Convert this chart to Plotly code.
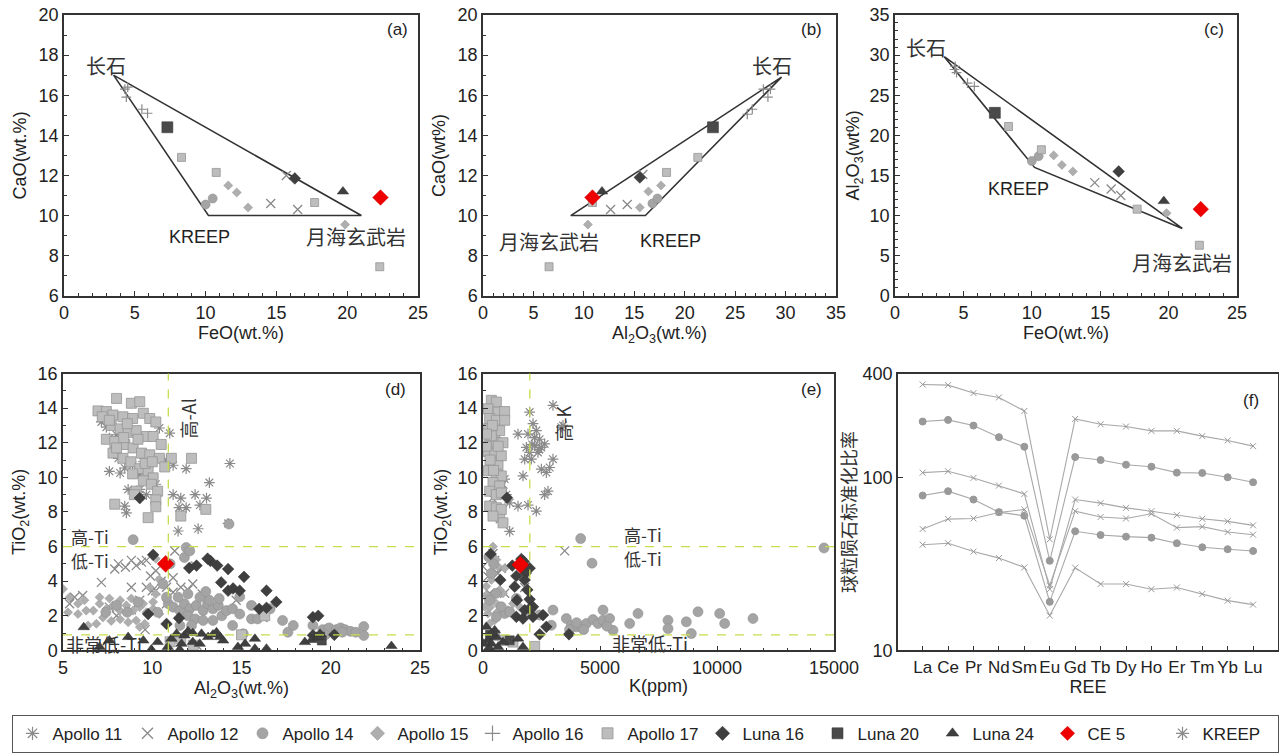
import plotly.graph_objects as go

# ------------------------------------------------------------------ data
SERIES = ["Apollo 11", "Apollo 12", "Apollo 14", "Apollo 15", "Apollo 16",
          "Apollo 17", "Luna 16", "Luna 20", "Luna 24", "CE 5", "KREEP"]

# (a) FeO vs CaO
a_apollo16 = [(4.3, 16.3), (4.4, 15.9), (4.5, 16.4), (5.5, 15.3), (5.9, 15.1)]
a_apollo12 = [(14.6, 10.6), (16.5, 10.3), (15.7, 12.0)]
a_apollo14 = [(10.0, 10.55), (10.5, 10.85)]
a_apollo15 = [(11.6, 11.5), (12.2, 11.15), (13.0, 10.4), (19.85, 9.55)]
a_apollo17 = [(8.3, 12.9), (10.75, 12.15), (17.7, 10.65), (22.3, 7.45)]
a_luna16 = [(16.3, 11.85)]
a_luna20 = [(7.3, 14.4)]
a_luna24 = [(19.7, 11.2)]
a_ce5 = [(22.35, 10.9)]
a_field = [(3.5, 17.0), (10.2, 10.0), (21.0, 10.0), (3.5, 17.0)]

# (b) Al2O3 vs CaO
b_apollo16 = [(27.8, 16.3), (28.25, 15.9), (28.5, 16.3), (26.2, 15.05), (26.7, 15.3)]
b_apollo12 = [(12.65, 10.3), (14.3, 10.55), (15.85, 12.05)]
b_apollo14 = [(16.8, 10.6), (17.3, 10.85)]
b_apollo15 = [(16.4, 11.2), (17.65, 11.5), (15.55, 10.4), (10.4, 9.55)]
b_apollo17 = [(21.3, 12.9), (18.2, 12.15), (10.85, 10.65), (6.55, 7.45)]
b_luna16 = [(15.55, 11.9)]
b_luna20 = [(22.8, 14.4)]
b_luna24 = [(11.8, 11.2)]
b_ce5 = [(10.85, 10.9)]
b_field = [(29.6, 16.9), (8.7, 10.0), (16.1, 10.0), (29.6, 16.9)]

# (c) FeO vs Al2O3
c_apollo16 = [(4.35, 28.2), (4.5, 27.8), (5.3, 26.5), (5.8, 26.1), (4.4, 28.6)]
c_apollo12 = [(14.6, 14.1), (15.8, 13.3), (16.5, 12.5)]
c_apollo14 = [(10.0, 16.8), (10.5, 17.4)]
c_apollo15 = [(11.6, 17.5), (12.2, 16.3), (13.0, 15.5), (19.85, 10.3)]
c_apollo17 = [(8.3, 21.1), (10.7, 18.2), (17.7, 10.8), (22.25, 6.3)]
c_luna16 = [(16.35, 15.5)]
c_luna20 = [(7.3, 22.8)]
c_luna24 = [(19.65, 11.8)]
c_ce5 = [(22.35, 10.8)]
c_field = [(3.6, 29.8), (10.2, 16.0), (21.0, 8.4), (3.6, 29.8)]

# (d) Al2O3 vs TiO2
d_apollo11 = [(7.15, 13.2), (7.43, 12.9), (7.6, 12.26), (7.9, 11.7), (8.1, 11.1), (7.6, 10.35),
              (8.2, 10.25), (8.46, 10.54), (8.9, 10.7), (9.3, 10.15), (8.65, 9.3), (9.3, 9.3),
              (9.67, 9.0), (8.46, 8.34), (8.55, 7.95), (10.2, 9.6), (10.4, 12.85), (10.98, 12.55),
              (11.17, 9.0), (11.6, 8.8), (11.9, 10.5), (12.4, 9.0), (12.67, 8.4), (13.04, 8.8),
              (13.2, 9.7), (11.17, 10.7), (11.9, 8.25), (12.57, 7.03), (11.45, 6.9), (14.35, 10.8),
              (14.25, 7.34), (10.8, 11.0), (9.5, 10.9), (7.99, 12.46), (8.27, 11.9), (11.5, 8.25)]
d_apollo12 = [(7.9, 4.7), (8.1, 5.0), (8.83, 5.2), (9.1, 4.9), (9.4, 5.1), (9.67, 5.2), (10.2, 4.6),
              (7.15, 3.93), (8.83, 3.65), (9.67, 3.65), (10.2, 3.45), (10.8, 3.65), (11.17, 3.36),
              (11.6, 3.65), (12.27, 3.84), (12.8, 3.26), (11.26, 5.74), (11.17, 4.2), (10.0, 3.45),
              (10.8, 2.7), (8.83, 2.35), (9.3, 2.9), (14.7, 2.9), (16.2, 1.9), (7.6, 2.5),
              (5.37, 2.7), (5.65, 3.07), (6.1, 3.17), (8.5, 4.8), (9.9, 4.3), (10.5, 4.0),
              (12.0, 3.5), (8.0, 2.0), (9.6, 1.2), (12.5, 0.3)]
d_apollo14 = [(10.9, 2.7), (11.17, 2.5), (11.55, 2.3), (11.8, 2.7), (12.1, 2.4), (12.47, 2.6),
              (12.85, 2.3), (13.1, 2.7), (13.4, 2.4), (13.7, 2.6), (12.0, 2.0), (12.4, 1.82),
              (12.85, 1.73), (13.4, 1.73), (13.9, 2.0), (14.16, 2.3), (14.5, 2.4), (14.9, 2.1),
              (11.45, 3.07), (12.0, 3.26), (12.67, 3.07), (13.2, 2.9), (13.75, 3.0), (10.6, 3.84),
              (10.8, 3.07), (11.55, 1.44), (12.2, 1.44), (14.5, 1.44), (15.1, 0.96), (15.56, 1.82),
              (15.9, 1.82), (16.6, 2.4), (17.3, 1.73), (17.6, 1.05), (17.9, 1.44), (19.0, 1.44),
              (19.55, 1.2), (19.9, 1.3), (20.3, 1.2), (20.55, 1.3), (20.8, 1.2), (21.1, 1.1),
              (21.4, 1.05), (21.85, 1.38), (21.85, 0.86), (20.65, 1.05), (19.7, 0.9), (11.8, 5.37),
              (11.9, 5.94), (12.1, 5.75), (8.93, 6.4), (14.3, 7.3), (11.0, 5.0), (14.9, 3.1),
              (15.56, 2.6), (8.0, 2.6), (8.6, 2.2), (9.2, 2.8), (7.4, 2.2), (10.3, 2.2), (13.0, 3.4)]
d_apollo15 = [(7.05, 2.7), (7.43, 2.4), (7.8, 2.6), (8.18, 2.3), (8.55, 2.6), (8.93, 2.3), (9.3, 2.5),
              (9.67, 2.2), (10.05, 2.4), (10.4, 2.1), (7.24, 1.9), (7.7, 1.7), (8.2, 1.8), (8.65, 1.63),
              (9.1, 1.73), (9.58, 1.54), (7.05, 3.07), (7.6, 3.0), (8.2, 2.9), (8.83, 3.0), (9.49, 2.7),
              (10.05, 2.8), (6.7, 2.3), (6.87, 1.54), (6.3, 2.3), (5.84, 2.1), (5.28, 2.2), (5.0, 3.55),
              (5.37, 3.07), (5.84, 2.7), (6.2, 2.9), (6.4, 1.44), (9.3, 1.35), (9.86, 3.65), (10.2, 3.26),
              (10.4, 4.1), (12.2, 4.9), (10.2, 5.3)]
d_apollo17 = [(6.96, 13.84), (7.43, 13.8), (8.0, 14.56), (8.83, 14.28), (9.3, 14.37), (7.8, 13.6),
              (8.36, 13.5), (8.9, 13.4), (9.5, 13.7), (9.86, 13.4), (10.2, 13.2), (7.7, 13.0),
              (8.2, 12.8), (8.65, 12.6), (9.1, 12.7), (9.67, 12.36), (10.05, 12.36), (10.5, 11.9),
              (7.43, 12.2), (7.9, 12.07), (8.46, 11.9), (8.93, 11.7), (9.4, 11.4), (9.86, 11.3),
              (10.4, 11.1), (11.07, 11.1), (12.2, 11.1), (7.8, 11.4), (8.36, 11.1), (8.8, 10.9),
              (9.3, 10.5), (9.77, 10.35), (10.05, 9.97), (8.9, 10.2), (9.5, 9.8), (9.95, 9.6),
              (10.3, 9.2), (9.1, 9.2), (10.2, 8.7), (10.2, 8.3), (7.9, 8.45), (9.0, 9.0), (9.77, 7.67),
              (11.6, 7.76), (13.0, 8.15), (7.2, 13.5), (8.6, 13.1), (9.2, 12.2), (8.0, 11.7),
              (9.6, 10.8), (10.7, 10.6), (11.0, 0.5), (11.6, 0.7), (15.0, 0.9), (16.3, 2.0),
              (12.3, 0.3), (7.6, 13.3), (8.4, 12.3), (10.0, 10.9)]
d_luna16 = [(9.3, 8.8), (10.05, 5.52), (12.07, 4.76), (13.26, 5.17), (13.64, 4.9), (14.25, 4.7),
            (13.86, 3.93), (14.25, 3.45), (14.53, 3.58), (15.14, 4.25), (14.9, 3.45), (16.4, 3.45),
            (16.95, 2.8), (15.99, 2.4), (16.4, 2.46), (9.77, 2.1), (10.8, 1.53), (11.5, 1.86),
            (19.0, 1.92), (19.3, 2.0), (20.2, 0.9), (19.0, 0.87), (12.48, 4.9), (13.1, 5.3)]
d_luna20 = [(19.4, 0.8), (19.5, 0.57)]
d_luna24 = [(6.16, 1.34), (7.05, 0.2), (9.95, 0.05), (11.07, 0.67), (11.54, 0.05), (11.36, 0.96),
            (11.8, 0.86), (12.27, 1.0), (12.76, 0.96), (13.13, 0.77), (13.4, 0.92), (13.8, 0.77),
            (13.97, 0.57), (12.27, 0.48), (12.66, 0.38), (11.64, 0.38), (10.3, 0.48), (9.5, 0.57),
            (8.65, 0.77), (7.6, 0.57), (14.8, 0.2), (15.2, 0.38), (15.75, 0.67), (15.75, 0.1),
            (16.4, 0.1), (18.55, 0.48), (18.93, 0.6), (19.3, 0.77), (19.4, 0.96), (23.4, 0.25),
            (10.87, 0.2), (12.0, 1.1), (13.6, 1.05)]
d_ce5 = [(10.75, 5.0)]

# (e) K(ppm) vs TiO2
e_apollo11 = [(1994, 13.77), (1496, 12.5), (1923, 12.5), (2137, 13.1), (2279, 12.7), (2421, 12.2),
              (2208, 11.83), (2493, 11.73), (2635, 11.93), (2350, 11.44), (1852, 11.73), (1781, 11.05),
              (2066, 11.05), (1994, 11.44), (2493, 10.47), (2707, 10.28), (2849, 10.57), (2991, 11.05),
              (2778, 9.2), (2635, 9.0), (2279, 8.05), (1709, 10.08), (2991, 14.16), (3419, 13.0),
              (1923, 8.4), (1496, 8.34), (1140, 8.53), (997, 9.0), (926, 9.9), (712, 7.56),
              (1140, 6.88), (3348, 12.9), (2200, 12.3), (2400, 11.6), (2100, 11.9)]
e_apollo12 = [(3490, 5.75), (0, 4.85), (500, 5.2), (783, 4.75), (641, 4.46), (285, 3.3), (926, 3.3),
              (1781, 3.63), (427, 5.6), (214, 4.27), (600, 9.3), (850, 9.6), (400, 8.8)]
e_apollo14 = [(3561, 1.84), (3775, 1.45), (3989, 1.36), (4202, 1.36), (4416, 1.55), (4701, 1.78),
              (4915, 1.55), (5128, 1.74), (5413, 1.84), (5128, 2.33), (5556, 1.16), (6268, 1.55),
              (6624, 2.13), (7906, 1.74), (7906, 1.26), (8689, 1.65), (8903, 0.97), (9188, 2.23),
              (10114, 2.13), (10328, 1.55), (11538, 1.84), (14573, 5.92), (4174, 6.46), (4658, 5.04),
              (2991, 2.33), (2920, 1.45), (2421, 2.04), (2066, 2.42), (1852, 2.23), (1425, 3.0),
              (926, 2.13), (570, 1.94), (356, 4.46), (570, 3.3), (285, 2.9), (783, 2.52), (1140, 2.23),
              (3700, 1.2), (4300, 1.2), (4000, 1.6), (5300, 1.4), (250, 5.4), (450, 5.0)]
e_apollo15 = [(142, 3.2), (427, 2.9), (641, 2.62), (855, 3.3), (214, 2.13), (500, 1.74), (712, 3.5),
              (1068, 2.33), (1282, 2.71), (142, 3.7), (356, 4.07), (570, 5.24), (71, 2.52), (285, 1.55),
              (1567, 2.52), (427, 6.0), (926, 4.75), (641, 4.85), (300, 2.5), (600, 2.2), (200, 3.0)]
e_apollo17 = [(356, 14.45), (570, 14.35), (214, 13.96), (641, 13.77), (285, 13.4), (570, 13.3),
              (926, 13.8), (926, 13.3), (214, 12.8), (500, 12.6), (712, 12.7), (285, 12.1), (570, 12.0),
              (855, 12.0), (214, 11.5), (500, 11.35), (783, 11.25), (356, 10.86), (641, 10.67),
              (214, 10.38), (570, 10.18), (783, 10.08), (427, 9.7), (712, 9.5), (285, 9.2), (570, 9.0),
              (783, 9.1), (285, 8.34), (570, 8.24), (712, 7.76), (855, 7.37), (356, 12.4), (142, 11.8),
              (783, 8.15), (427, 7.76), (1282, 0.48), (2208, 0.23), (500, 0.87), (855, 0.58),
              (400, 13.0), (650, 11.8), (300, 11.0), (450, 10.4), (150, 12.5)]
e_luna16 = [(1026, 8.82), (328, 5.57), (1254, 4.9), (1638, 5.28), (1738, 5.14), (1994, 4.75),
            (1425, 4.3), (1823, 4.46), (1353, 3.68), (1781, 4.07), (1895, 3.5), (1453, 2.9),
            (1994, 2.95), (2137, 1.94), (2707, 1.36), (2421, 0.93), (3675, 0.93), (741, 4.07),
            (1425, 1.94), (1709, 1.84), (2137, 2.52), (2564, 2.04), (1781, 2.33), (1994, 2.42)]
e_luna20 = [(1140, 0.58), (300, 0.9)]
e_luna24 = [(214, 0.58), (356, 0.39), (570, 0.78), (256, 0.15), (641, 0.19), (1496, 0.68),
            (1709, 0.19), (500, 1.16), (142, 1.36), (855, 0.48), (30, 0.39), (356, 0.97)]
e_ce5 = [(1595, 4.95)]

# (f) chondrite-normalised REE patterns
REE = ["La", "Ce", "Pr", "Nd", "Sm", "Eu", "Gd", "Tb", "Dy", "Ho", "Er", "Tm", "Yb", "Lu"]
f_line1 = [345.8, 342.7, 308.2, 290.9, 242.8, 43.9, 218.4, 203.4, 197.3, 186.3, 186.3, 173.6, 163.9, 152.0]
f_line2 = [210.9, 215.6, 199.9, 171.3, 150.7, 33.0, 131.4, 126.3, 118.7, 115.6, 106.8, 106.3, 100.4, 93.9]
f_line3 = [106.8, 108.7, 99.5, 89.9, 80.4, 22.6, 74.6, 71.1, 66.8, 63.9, 60.6, 57.8, 55.8, 52.9]
f_line4 = [78.7, 83.4, 74.6, 63.1, 60.1, 19.1, 48.9, 46.5, 45.5, 44.9, 41.7, 39.5, 38.5, 37.6]
f_line5 = [50.4, 57.5, 58.0, 62.8, 65.4, 23.8, 63.9, 59.1, 58.0, 61.7, 51.3, 52.0, 48.4, 46.7]
f_line6 = [40.9, 41.7, 37.3, 34.2, 30.2, 15.9, 30.1, 24.2, 24.2, 22.6, 23.1, 21.2, 19.4, 18.4]

# ------------------------------------------------------------------ styles
FONT = "Liberation Sans, Arial, Noto Sans CJK SC, sans-serif"
CJK = "Noto Sans CJK SC, Liberation Sans, sans-serif"
STYLE = {
    "Apollo 11": dict(symbol="asterisk-open", color="#8a8a8a", line=dict(color="#8a8a8a", width=1.2)),
    "Apollo 12": dict(symbol="x-thin-open", color="#8a8a8a", line=dict(color="#8a8a8a", width=1.3)),
    "Apollo 14": dict(symbol="circle", color="#a4a4a4", line=dict(color="#909090", width=0.6)),
    "Apollo 15": dict(symbol="diamond", color="#aeaeae", line=dict(color="#999999", width=0.5)),
    "Apollo 16": dict(symbol="cross-thin-open", color="#8a8a8a", line=dict(color="#8a8a8a", width=1.2)),
    "Apollo 17": dict(symbol="square", color="#bdbdbd", line=dict(color="#959595", width=0.8)),
    "Luna 16": dict(symbol="diamond", color="#3f3f3f", line=dict(color="#333333", width=0.5)),
    "Luna 20": dict(symbol="square", color="#4a4a4a", line=dict(color="#333333", width=0.5)),
    "Luna 24": dict(symbol="triangle-up", color="#3f3f3f", line=dict(color="#333333", width=0.5)),
    "CE 5": dict(symbol="diamond", color="#ee0000", line=dict(color="#cc0000", width=0.5)),
    "KREEP": dict(symbol="asterisk-open", color="#8a8a8a", line=dict(color="#8a8a8a", width=1.2)),
}

fig = go.Figure()

# legend-only traces
for name in SERIES:
    st = STYLE[name]
    fig.add_trace(go.Scatter(x=[None], y=[None], mode="markers", name=name, showlegend=True,
                             marker=dict(symbol=st["symbol"], color=st["color"], line=st["line"], size=11),
                             xaxis="x", yaxis="y"))


def pts(name, data, k, size):
    st = STYLE[name]
    ax = "" if k == 1 else str(k)
    fig.add_trace(go.Scatter(x=[p[0] for p in data], y=[p[1] for p in data], mode="markers",
                             showlegend=False, name=name, xaxis="x" + ax, yaxis="y" + ax,
                             marker=dict(symbol=st["symbol"], color=st["color"], line=st["line"], size=size)))


def field(data, k):
    ax = "" if k == 1 else str(k)
    fig.add_trace(go.Scatter(x=[p[0] for p in data], y=[p[1] for p in data], mode="lines",
                             showlegend=False, xaxis="x" + ax, yaxis="y" + ax,
                             line=dict(color="#333333", width=1.6)))


for k, grp in [(1, (a_field, a_apollo16, a_apollo12, a_apollo14, a_apollo15, a_apollo17, a_luna16, a_luna20, a_luna24, a_ce5)),
               (2, (b_field, b_apollo16, b_apollo12, b_apollo14, b_apollo15, b_apollo17, b_luna16, b_luna20, b_luna24, b_ce5)),
               (3, (c_field, c_apollo16, c_apollo12, c_apollo14, c_apollo15, c_apollo17, c_luna16, c_luna20, c_luna24, c_ce5))]:
    fld, a16, a12, a14, a15, a17, l16, l20, l24, ce = grp
    field(fld, k)
    pts("Apollo 16", a16, k, 7)
    pts("Apollo 12", a12, k, 9)
    pts("Apollo 14", a14, k, 9)
    pts("Apollo 15", a15, k, 7)
    pts("Apollo 17", a17, k, 8)
    pts("Luna 16", l16, k, 9)
    pts("Luna 20", l20, k, 11)
    pts("Luna 24", l24, k, 10)
    pts("CE 5", ce, k, 12)

# (d)
pts("Apollo 11", d_apollo11, 4, 9)
pts("Apollo 12", d_apollo12, 4, 9)
pts("Apollo 15", d_apollo15, 4, 7)
pts("Apollo 14", d_apollo14, 4, 10)
pts("Apollo 17", d_apollo17, 4, 10)
pts("Luna 16", d_luna16, 4, 9)
pts("Luna 20", d_luna20, 4, 9)
pts("Luna 24", d_luna24, 4, 10)
pts("CE 5", d_ce5, 4, 13)
# (e)
pts("Apollo 11", e_apollo11, 5, 9)
pts("Apollo 12", e_apollo12, 5, 9)
pts("Apollo 15", e_apollo15, 5, 7)
pts("Apollo 14", e_apollo14, 5, 10)
pts("Apollo 17", e_apollo17, 5, 10)
pts("Luna 16", e_luna16, 5, 9)
pts("Luna 20", e_luna20, 5, 9)
pts("Luna 24", e_luna24, 5, 10)
pts("CE 5", e_ce5, 5, 13)

# (f)
for vals, sym, sz in [(f_line1, "x-thin-open", 6), (f_line2, "circle", 7), (f_line3, "x-thin-open", 6),
                      (f_line4, "circle", 7), (f_line5, "x-thin-open", 6), (f_line6, "x-thin-open", 6)]:
    fig.add_trace(go.Scatter(x=REE, y=vals, mode="lines+markers", showlegend=False, xaxis="x6", yaxis="y6",
                             line=dict(color="#a8a8a8", width=1.1),
                             marker=dict(symbol=sym, size=sz, color="#999999",
                                         line=dict(color="#999999", width=1))))

# ------------------------------------------------------------------ axes
W, H = 1279, 753
row1 = [1 - 297 / H, 1 - 15 / H]
row2 = [1 - 653 / H, 1 - 375 / H]
cols = {1: [64, 418], 2: [483, 836], 3: [895, 1237], 4: [63, 420], 5: [483, 834], 6: [898, 1278]}

TF = dict(size=18, color="#222222", family=FONT)
base = dict(showline=True, linecolor="#333333", linewidth=1.5, mirror=True, ticks="inside",
            ticklen=5, tickcolor="#333333", showgrid=False, zeroline=False, automargin=False,
            tickfont=TF)


def xa(k, rng, dtick, minor, title, standoff):
    d = dict(base, domain=[cols[k][0] / W, cols[k][1] / W], range=rng, dtick=dtick,
             anchor="y" + ("" if k == 1 else str(k)), tickformat="d",
             title=dict(text=title, font=dict(size=18, color="#222222", family=FONT), standoff=standoff))
    if minor:
        d["minor"] = dict(dtick=minor, ticks="inside", ticklen=3, tickcolor="#333333")
    return d


def ya(k, rng, dtick, minor, title, standoff, dom):
    d = dict(base, domain=dom, range=rng, dtick=dtick, anchor="x" + ("" if k == 1 else str(k)),
             title=dict(text=title, font=dict(size=18, color="#222222", family=FONT), standoff=standoff))
    if minor:
        d["minor"] = dict(dtick=minor, ticks="inside", ticklen=3, tickcolor="#333333")
    return d


layout = dict(
    width=W, height=H, margin=dict(l=0, r=0, t=0, b=0), paper_bgcolor="white", plot_bgcolor="white",
    font=dict(family=FONT, size=16, color="#222222"),
    xaxis=xa(1, [0, 25], 5, 1, "FeO(wt.%)", 3),
    yaxis=ya(1, [6, 20], 2, 1, "CaO(wt.%)", 7, row1),
    xaxis2=xa(2, [0, 35], 5, 1, "Al<sub>2</sub>O<sub>3</sub>(wt.%)", 3),
    yaxis2=ya(2, [6, 20], 2, 1, "CaO(wt%)", 7, row1),
    xaxis3=xa(3, [0, 25], 5, 1, "FeO(wt.%)", 3),
    yaxis3=ya(3, [0, 35], 5, 1, "Al<sub>2</sub>O<sub>3</sub>(wt%)", 5, row1),
    xaxis4=xa(4, [5, 25], 5, 1, "Al<sub>2</sub>O<sub>3</sub>(wt.%)", 3),
    yaxis4=ya(4, [0, 16], 2, 1, "TiO<sub>2</sub>(wt.%)", 7, row2),
    xaxis5=xa(5, [0, 15000], 5000, 1000, "K(ppm)", 3),
    yaxis5=ya(5, [0, 16], 2, 1, "TiO<sub>2</sub>(wt.%)", 5, row2),
    xaxis6=dict(base, domain=[cols[6][0] / W, cols[6][1] / W], type="category", range=[-0.97, 13.98],
                anchor="y6", tickangle=0, tickfont=dict(size=17, color="#222222", family=FONT),
                title=dict(text="REE", font=dict(size=18, color="#222222", family=FONT), standoff=3)),
    yaxis6=dict(base, domain=row2, type="log", range=[1, 2.60206], tickvals=[10, 100, 400],
                ticktext=["10", "100", "400"], anchor="x6",
                title=dict(text="球粒陨石标准化比率", font=dict(size=18, color="#333333", family=CJK), standoff=1)),
    legend=dict(orientation="h", x=0.009, y=0.047, xanchor="left", yanchor="top",
                bordercolor="#555555", borderwidth=1, bgcolor="white",
                font=dict(size=17, color="#222222", family=FONT),
                entrywidth=70, entrywidthmode="pixels", tracegroupgap=0, itemwidth=30),
)
fig.update_layout(**layout)

# dashed classification lines
DASH = dict(color="#c9dc4c", width=1.3, dash="dash")
for k, xv in [(4, 10.9), (5, 2000)]:
    ax = str(k)
    fig.add_shape(type="line", xref="x" + ax, yref="y" + ax + " domain", x0=xv, x1=xv, y0=0, y1=1, line=DASH)
    for yv in (6, 0.9):
        fig.add_shape(type="line", xref="x" + ax + " domain", yref="y" + ax, x0=0, x1=1, y0=yv, y1=yv, line=DASH)

# ------------------------------------------------------------------ annotations
def ann(k, x, y, text, size=18, angle=0, family=CJK, color="#333333"):
    ax = "" if k == 1 else str(k)
    fig.add_annotation(xref="x" + ax, yref="y" + ax, x=x, y=y, text=text, showarrow=False,
                       textangle=angle, borderpad=0, font=dict(size=size, color=color, family=family))


ann(1, 23.55, 19.25, "(a)", 17, family=FONT, color="#222222")
ann(1, 3.0, 17.5, "长石", 20)
ann(1, 9.6, 8.95, "KREEP", 18, family=FONT, color="#222222")
ann(1, 20.6, 8.95, "月海玄武岩", 20)

ann(2, 32.6, 19.25, "(b)", 17, family=FONT, color="#222222")
ann(2, 28.7, 17.5, "长石", 20)
ann(2, 18.6, 8.75, "KREEP", 18, family=FONT, color="#222222")
ann(2, 6.5, 8.7, "月海玄武岩", 20)

ann(3, 23.3, 33.2, "(c)", 17, family=FONT, color="#222222")
ann(3, 2.3, 30.9, "长石", 20)
ann(3, 9.0, 13.3, "KREEP", 18, family=FONT, color="#222222")
ann(3, 21.0, 4.2, "月海玄武岩", 20)

ann(4, 23.6, 15.1, "(d)", 17, family=FONT, color="#222222")
ann(4, 12.0, 13.4, "高-Al", 18, angle=-90)
ann(4, 6.5, 6.6, "高-Ti", 17)
ann(4, 6.5, 5.2, "低-Ti", 17)
ann(4, 7.3, 0.35, "非常低-Ti", 18)

ann(5, 14030, 15.1, "(e)", 17, family=FONT, color="#222222")
ann(5, 3420, 13.1, "高-K", 18, angle=-90)
ann(5, 6840, 6.7, "高-Ti", 17)
ann(5, 6840, 5.3, "低-Ti", 17)
ann(5, 7150, 0.45, "非常低-Ti", 18)

fig.add_annotation(xref="x6 domain", yref="y6 domain", x=0.955, y=0.945, text="(f)", showarrow=False,
                   font=dict(size=17, color="#222222", family=FONT))

fig.write_html("out.html")
